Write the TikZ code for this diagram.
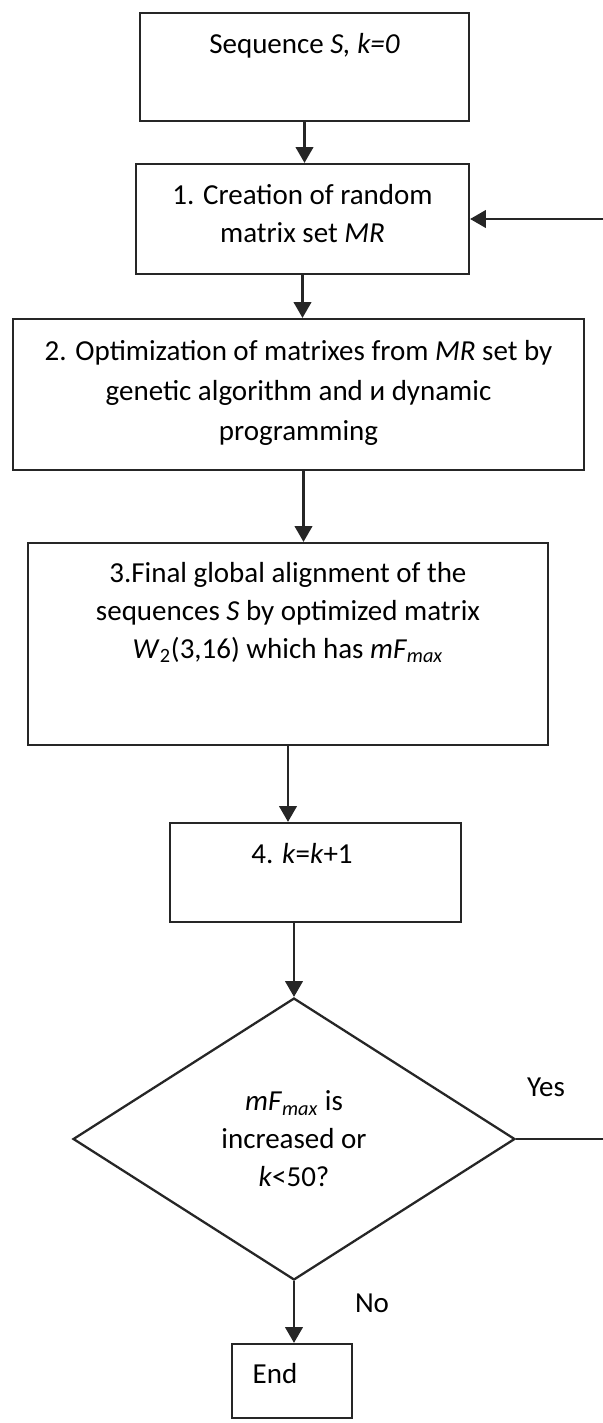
\documentclass[tikz,border=0pt]{standalone}
\usepackage{fontspec}
\setmainfont{Carlito}
\usetikzlibrary{shapes.geometric,arrows.meta}

\tikzset{
  stepbox/.style={draw=black!85,line width=1.3pt,inner sep=0pt},
  steptext/.style={align=center,inner sep=0pt,font=\fontsize{16.5}{21.6}\selectfont},
  decision/.style={draw=black!85,line width=1.3pt,diamond,aspect=1.567,inner sep=0pt,
    align=center,font=\fontsize{16.5}{21.6}\selectfont},
  flow/.style={draw=black!85,line width=1.3pt,-{Triangle[length=9pt,width=10pt]}},
  tag/.style={font=\fontsize{16.5}{21.6}\selectfont}
}

\begin{document}
\begin{tikzpicture}[x=0.02cm,y=-0.02cm]
\useasboundingbox (0,0) rectangle (602,1423);

% Boxes of the steps
\node[stepbox,minimum width=6.58cm,minimum height=2.16cm] (s0) at (304.5,67) {};
\node[stepbox,minimum width=6.66cm,minimum height=2.2cm] (s1) at (302.5,219) {};
\node[stepbox,minimum width=11.42cm,minimum height=3.02cm] (s2) at (298.5,394.5) {};
\node[stepbox,minimum width=10.4cm,minimum height=4.04cm] (s3) at (288,644) {};
\node[stepbox,minimum width=5.82cm,minimum height=1.98cm] (s4) at (315.5,872.5) {};
\node[decision,minimum width=8.84cm,minimum height=5.64cm] (dec) at (294,1139)
  {\textit{mF}\textsubscript{\textit{max}} is\\ increased or\\ \textit{k}<50?};
\node[stepbox,minimum width=2.4cm,minimum height=1.48cm] (fin) at (292,1381) {};

% Texts, hung from the top of each box
\node[steptext,below=0.42cm] (t0) at (s0.north) {Sequence \textit{S, k=0}};
\node[steptext,below=0.42cm] (t1) at (s1.north) {1. Creation of random\\ matrix set \textit{MR}};
\node[steptext,below=0.45cm] (t2) at (s2.north)
  {2. Optimization of matrixes from \textit{MR} set by\\[1pt] genetic algorithm and и dynamic\\[1pt] programming};
\node[steptext,below=0.4cm] (t3) at (s3.north)
  {3.Final global alignment of the\\ sequences \textit{S} by optimized matrix\\
   \textit{W}\textsubscript{2}(3,16) which has \textit{mF}\textsubscript{\textit{max}}};
\node[steptext,below=0.42cm,xshift=-0.27cm] (t4) at (s4.north) {4. \textit{k}=\textit{k}+1};
\node[steptext,below=0.4cm,xshift=-0.34cm] (t5) at (fin.north) {End};

% Flow downwards
\draw[flow] (s0.south) -- (s0.south |- s1.north);
\draw[flow] (s1.south) -- (s1.south |- s2.north);
\draw[flow] ([xshift=0.1cm]s2.south) -- ([xshift=0.1cm]s2.south |- s3.north);
\draw[flow] (s3.south) -- (s3.south |- s4.north);
\draw[flow] (dec.north |- s4.south) -- (dec.north);
\draw[flow] (dec.south) -- (fin.north -| dec.south);

% Loop back to step 1
\coordinate (back) at (625,0);
\draw[flow] (dec.east) -- (dec.east -| back) |- (s1.east);

\node[tag] (yes) at (546,1087) {Yes};
\node[tag] (no) at (372,1303) {No};
\end{tikzpicture}
\end{document}
